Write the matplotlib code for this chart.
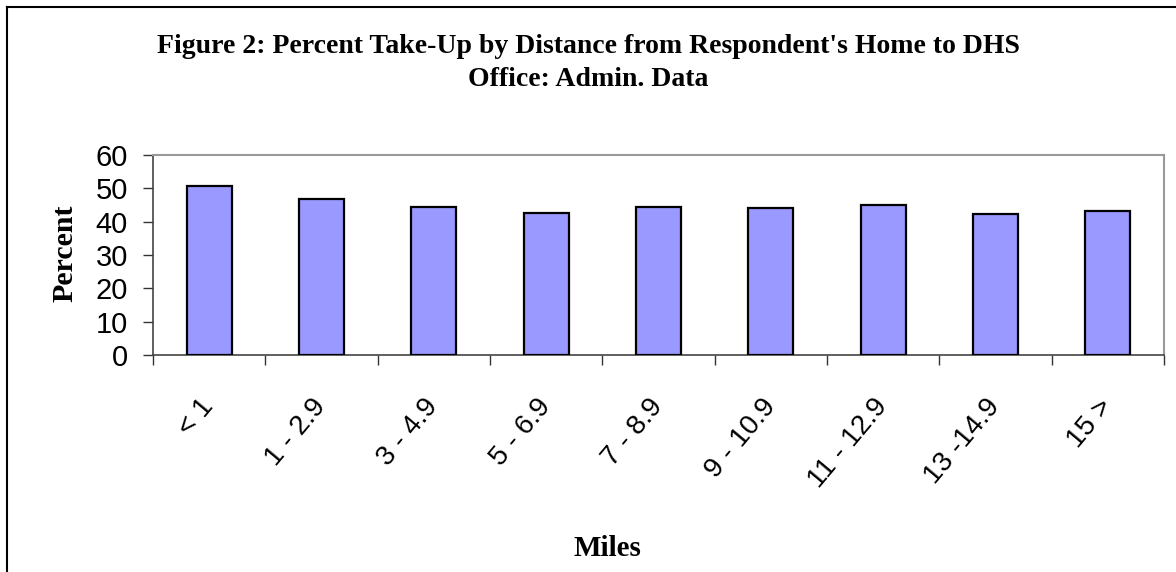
import numpy as np
import matplotlib.pyplot as plt
from matplotlib.lines import Line2D

# Data
categories = ["< 1", "1 - 2.9", "3 - 4.9", "5 - 6.9", "7 - 8.9",
              "9 - 10.9", "11 - 12.9", "13 -14.9", "15 >"]
take_up = [50.8, 46.8, 44.4, 42.6, 44.4, 44.0, 44.9, 42.4, 43.1]
y_ticks = [0, 10, 20, 30, 40, 50, 60]

title = "Figure 2: Percent Take-Up by Distance from Respondent's Home to DHS\nOffice: Admin. Data"

W, H = 1176, 572
fig = plt.figure(figsize=(W / 100, H / 100), dpi=100)
fig.patch.set_facecolor("white")

# plot area in pixels: x 153..1164, y 155..355
ax = fig.add_axes([153 / W, 1 - 355 / H, (1164 - 153) / W, (355 - 155) / H])

x = np.arange(len(categories))
ax.bar(x, take_up, width=0.4, color="#9999ff", edgecolor="black", linewidth=1.6, zorder=3)

ax.set_xlim(-0.5, len(categories) - 0.5)
ax.set_ylim(0, 60)
ax.set_yticks(y_ticks)
ax.set_yticklabels([str(v) for v in y_ticks], fontsize=21, family="Liberation Sans")

# ticks on the category boundaries, labels centred under the bars
ax.set_xticks(np.arange(len(categories) + 1) - 0.5)
ax.set_xticklabels([])
ax.set_xticks(x, minor=True)
ax.set_xticklabels(categories, minor=True, rotation=50, ha="right", va="center",
                   rotation_mode="anchor", fontsize=20, family="Liberation Sans")
ax.tick_params(axis="x", which="minor", length=0, pad=34)
ax.tick_params(axis="x", which="major", direction="out", length=7, width=1, color="#333333")
ax.tick_params(axis="y", direction="out", length=7, width=1, color="#333333", pad=11)

for side in ["top", "right"]:
    ax.spines[side].set_color("#999999")
    ax.spines[side].set_linewidth(1.5)
for side in ["left", "bottom"]:
    ax.spines[side].set_color("#444444")
    ax.spines[side].set_linewidth(1.2)

fig.text(0.5, 1 - 63 / H, title, ha="center", va="center", fontsize=20,
         fontweight="bold", family="Liberation Serif", linespacing=1.4)
fig.text(65 / W, 1 - 253 / H, "Percent", rotation=90, ha="center", va="center",
         fontsize=21.5, fontweight="bold", family="Liberation Serif")
fig.text(607 / W, 1 - 548 / H, "Miles", ha="center", va="center",
         fontsize=21, fontweight="bold", family="Liberation Serif")

# outer chart border (only left and top are visible)
fig.add_artist(Line2D([7 / W, 7 / W], [0, 1 - 7 / H], transform=fig.transFigure,
                      color="black", linewidth=1.5))
fig.add_artist(Line2D([7 / W, 1], [1 - 7 / H, 1 - 7 / H], transform=fig.transFigure,
                      color="black", linewidth=1.5))

fig.savefig("out.png", dpi=100)
